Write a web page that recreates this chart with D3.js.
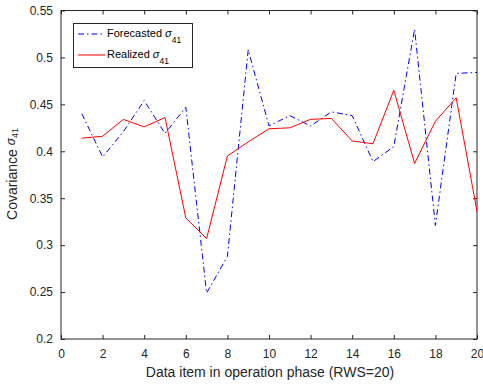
<!DOCTYPE html>
<html>
<head>
<meta charset="utf-8">
<script src="https://cdn.jsdelivr.net/npm/d3@7"></script>
<style>
  body { margin: 0; background: #fff; }
  svg { font-family: "Liberation Sans", Arial, sans-serif; }
</style>
</head>
<body>
<svg id="chart" width="483" height="384"></svg>
<script>
const items = d3.range(1, 21);
const forecasted = [0.440, 0.394, 0.421, 0.454, 0.419, 0.447, 0.249, 0.288, 0.508, 0.427,
                    0.438, 0.427, 0.442, 0.438, 0.389, 0.405, 0.530, 0.321, 0.483, 0.484];
const realized = [0.414, 0.416, 0.434, 0.426, 0.436, 0.329, 0.307, 0.395, 0.410, 0.424,
                  0.425, 0.434, 0.435, 0.411, 0.408, 0.465, 0.387, 0.432, 0.457, 0.336];
const xTicks = d3.range(0, 21, 2);
const yTicks = [0.2, 0.25, 0.3, 0.35, 0.4, 0.45, 0.5, 0.55];

const svg = d3.select('#chart');
const m = {left: 61, right: 477, top: 10.5, bottom: 339};
const axisColor = '#262626';

const x = d3.scaleLinear().domain([0, 20]).range([m.left, m.right]);
const y = d3.scaleLinear().domain([0.2, 0.55]).range([m.bottom, m.top]);

// plot box
svg.append('rect')
    .attr('x', m.left).attr('y', m.top)
    .attr('width', m.right - m.left).attr('height', m.bottom - m.top)
    .attr('fill', '#fff').attr('stroke', axisColor).attr('stroke-width', 1);

// axes, ticks pointing inward
const styleAxis = g => {
    g.select('.domain').remove();
    g.selectAll('line').attr('stroke', axisColor);
    g.selectAll('text').attr('fill', axisColor).attr('font-size', 12);
};
svg.append('g').attr('transform', `translate(0,${m.bottom})`)
    .call(d3.axisBottom(x).tickValues(xTicks).tickFormat(d3.format('d')).tickSizeInner(-4).tickPadding(10.5))
    .call(styleAxis);
svg.append('g').attr('transform', `translate(0,${m.top})`)
    .call(d3.axisTop(x).tickValues(xTicks).tickFormat('').tickSizeInner(-4))
    .call(styleAxis);
svg.append('g').attr('transform', `translate(${m.left},0)`)
    .call(d3.axisLeft(y).tickValues(yTicks).tickFormat(d => String(+d.toFixed(2))).tickSizeInner(-4).tickPadding(8))
    .call(styleAxis);
svg.append('g').attr('transform', `translate(${m.right},0)`)
    .call(d3.axisRight(y).tickValues(yTicks).tickFormat('').tickSizeInner(-4))
    .call(styleAxis);

// lines
const line = d3.line().x((d, i) => x(items[i])).y(d => y(d));
svg.append('path').datum(forecasted)
    .attr('d', line).attr('fill', 'none')
    .attr('stroke', '#0000ff').attr('stroke-width', 1)
    .attr('stroke-dasharray', '6,3,1.5,3');
svg.append('path').datum(realized)
    .attr('d', line).attr('fill', 'none')
    .attr('stroke', '#ff0000').attr('stroke-width', 1);

// axis labels
svg.append('text')
    .attr('x', 270).attr('y', 377)
    .attr('text-anchor', 'middle').attr('font-size', 14).attr('fill', axisColor)
    .text('Data item in operation phase (RWS=20)');

const yl = svg.append('text')
    .attr('transform', `translate(17,174) rotate(-90)`)
    .attr('text-anchor', 'middle').attr('font-size', 14).attr('fill', axisColor);
yl.append('tspan').text('Covariance ');
yl.append('tspan').attr('font-style', 'italic').attr('font-size', 12).attr('dy', -2).text('σ');
yl.append('tspan').attr('font-size', 9).attr('dy', 2.5).text('41');

// legend
const legend = svg.append('g');
legend.append('rect')
    .attr('x', 73.5).attr('y', 23.5).attr('width', 119).attr('height', 44)
    .attr('fill', '#fff').attr('stroke', axisColor).attr('stroke-width', 1);
const entries = [
    {name: 'Forecasted ', color: '#0000ff', dash: '6,3,1.5,3', y: 34},
    {name: 'Realized ', color: '#ff0000', dash: null, y: 55}
];
entries.forEach(e => {
    legend.append('line')
        .attr('x1', 78).attr('x2', 105).attr('y1', e.y).attr('y2', e.y)
        .attr('stroke', e.color).attr('stroke-width', 1)
        .attr('stroke-dasharray', e.dash);
    const t = legend.append('text')
        .attr('x', 107).attr('y', e.y + 3)
        .attr('font-size', 11).attr('fill', '#000');
    t.append('tspan').text(e.name);
    t.append('tspan').attr('font-style', 'italic').text('σ');
    t.append('tspan').attr('font-size', 8.5).attr('dy', 5.5).text('41');
});
</script>
</body>
</html>
